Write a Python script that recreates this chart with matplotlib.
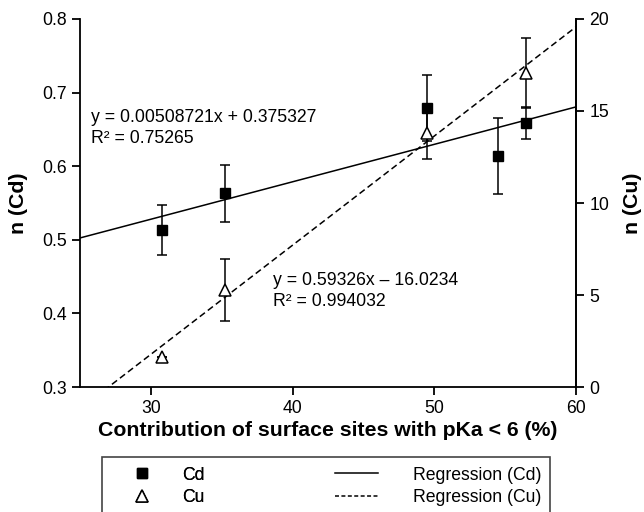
import numpy as np
import matplotlib
matplotlib.use('Agg')
import matplotlib.pyplot as plt
from matplotlib.lines import Line2D
from matplotlib.patches import Rectangle

plt.rcParams['font.family'] = ['Liberation Sans', 'DejaVu Sans']

# data
pka_cd = [30.8, 35.25, 49.5, 54.5, 56.5]
n_cd = [0.513, 0.563, 0.679, 0.614, 0.659]
err_cd = [0.034, 0.039, 0.045, 0.052, 0.0215]

pka_cu = [30.8, 35.25, 49.5, 56.5]
n_cu = [1.65, 5.27, 13.8, 17.07]
err_cu = [0.0, 1.68, 1.4, 1.91]

# regression coefficients as printed on the chart
fit_cd = (0.00508721, 0.375327)
fit_cu = (0.59326, -16.0234)
txt_cd = 'y = 0.00508721x + 0.375327\nR² = 0.75265'
txt_cu = 'y = 0.59326x – 16.0234\nR² = 0.994032'

W, H = 644.0, 512.0


def main():
    fig = plt.figure(figsize=(W/100, H/100), dpi=100)
    # axes box in pixels: x 80..576, y 19..387
    ax = fig.add_axes([80/W, 1 - 387/H, 496/W, 368/H])
    ax2 = ax.twinx()

    xx = np.array([25.0, 60.0])
    fs = 12.7

    # Cd on the left axis
    ax.plot(xx, fit_cd[0]*xx + fit_cd[1], color='black', lw=1.1, zorder=2)
    ax.errorbar(pka_cd, n_cd, yerr=err_cd, fmt='s', color='black', ms=7,
                ecolor='black', elinewidth=1.1, capsize=3.4, capthick=1.1, zorder=3)

    # Cu on the right axis
    ax2.plot(xx, fit_cu[0]*xx + fit_cu[1], color='black', lw=1.1, ls=(0, (4.2, 2.4)), zorder=2)
    ax2.errorbar(pka_cu, n_cu, yerr=err_cu, fmt='^', color='black', mfc='white', mec='black',
                 mew=1.1, ms=9.3, ecolor='black', elinewidth=1.1, capsize=3.4, capthick=1.1, zorder=3)

    ax.set_xlim(25, 60)
    ax.set_ylim(0.3, 0.8)
    ax2.set_ylim(0, 20)
    ax.set_xticks([30, 40, 50, 60])
    ax.set_yticks([0.3, 0.4, 0.5, 0.6, 0.7, 0.8])
    ax2.set_yticks([0, 5, 10, 15, 20])
    ax.set_yticklabels(['0.3', '0.4', '0.5', '0.6', '0.7', '0.8'])

    for a in (ax, ax2):
        a.spines['top'].set_visible(False)
        for s in a.spines.values():
            s.set_linewidth(1.3)
        a.tick_params(direction='out', length=6, width=1.3, labelsize=fs, pad=3.5)
    ax2.spines['left'].set_visible(False)
    ax2.spines['bottom'].set_visible(False)

    ax.set_xlabel('Contribution of surface sites with pKa < 6 (%)', fontsize=15.3, fontweight='bold')
    ax.set_ylabel('n (Cd)', fontsize=15.3, fontweight='bold')
    ax2.set_ylabel('n (Cu)', fontsize=15.3, fontweight='bold', rotation=90)
    ax.xaxis.set_label_coords(0.5, (387 - 431) / 368)
    ax.yaxis.set_label_coords((18.3 - 80) / 496, 0.5)
    ax2.yaxis.set_label_coords((632 - 80) / 496, 0.5)
    ax.xaxis.label.set_va('center')
    ax.yaxis.label.set_va('center')
    ax2.yaxis.label.set_va('center')

    ax.text(25.76, 0.6522, txt_cd, fontsize=fs, va='center', ha='left', linespacing=1.33)
    ax.text(38.65, 0.4305, txt_cu, fontsize=fs, va='center', ha='left', linespacing=1.33)

    # legend: frame drawn by hand, two frameless legends for the columns
    frame = Rectangle((101.7/W, 1 - 530/H), (550 - 101.7)/W, (530 - 456.7)/H,
                      transform=fig.transFigure, fill=False, ec='#444444', lw=1.2)
    fig.patches.append(frame)

    h_mark = [
        Line2D([], [], ls='none', marker='s', color='black', ms=7),
        Line2D([], [], ls='none', marker='^', color='black', mfc='white', mew=1.1, ms=9.3),
    ]
    h_line = [
        Line2D([], [], color='black', lw=1.1),
        Line2D([], [], color='black', lw=1.1, ls=(0, (2.6, 1.6))),
    ]
    yc = 1 - 486.5/H
    leg1 = fig.legend(h_mark, ['Cd', 'Cu'], loc='center left', bbox_to_anchor=(120.2/W, yc),
                      fontsize=fs, frameon=False, handlelength=2.44, handletextpad=1.05,
                      borderpad=0, borderaxespad=0, labelspacing=0.33)
    fig.legend(h_line, ['Regression (Cd)', 'Regression (Cu)'], loc='center left',
               bbox_to_anchor=(335/W, yc), fontsize=fs, frameon=False,
               handlelength=2.44, handletextpad=2.0, borderpad=0, borderaxespad=0,
               labelspacing=0.33)
    fig.add_artist(leg1)

    fig.savefig('out.png', dpi=100)


if __name__ == "__main__":
    main()
